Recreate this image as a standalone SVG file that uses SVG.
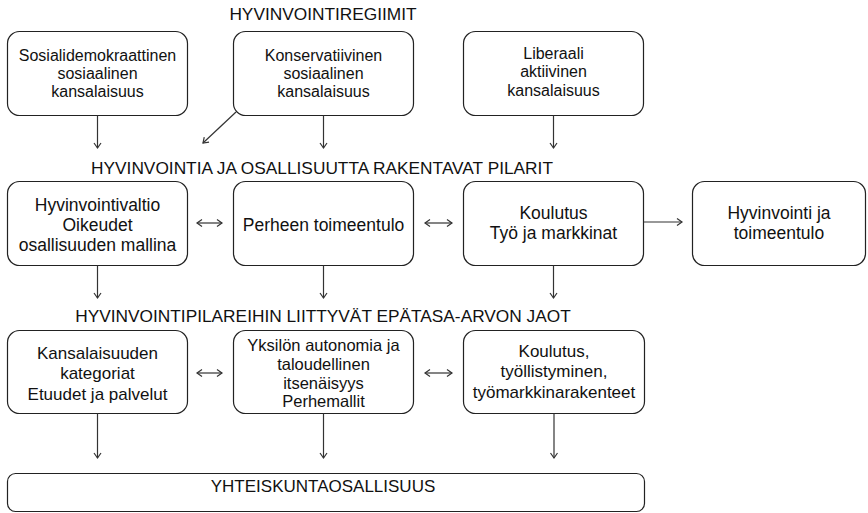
<svg xmlns="http://www.w3.org/2000/svg" width="868" height="513" viewBox="0 0 868 513">
<defs>
<marker id="ah" viewBox="0 0 10 10" refX="8" refY="5" markerWidth="10" markerHeight="10" markerUnits="userSpaceOnUse" orient="auto-start-reverse">
<path d="M3,1.5 L8,5 L3,8.5" fill="none" stroke="#333" stroke-width="1.2"/>
</marker>
</defs>
<style>
.box{fill:#fff;stroke:#222;stroke-width:1.2}
text{font-family:"Liberation Sans",Arial,sans-serif;fill:#111;text-anchor:middle}
.h{font-size:17.3px}
.t1{font-size:16px}
.t2{font-size:17.5px}
.t3{font-size:17px}
.t4{font-size:16.5px}
.c{fill:none;stroke:#333;stroke-width:1.2}
</style>
<rect width="868" height="513" fill="#fff"/>
<g id="headings">
<text class="h" x="323" y="20">HYVINVOINTIREGIIMIT</text>
<text class="h" x="322" y="174">HYVINVOINTIA JA OSALLISUUTTA RAKENTAVAT PILARIT</text>
<text class="h" x="323" y="322">HYVINVOINTIPILAREIHIN LIITTYVÄT EPÄTASA-ARVON JAOT</text>
</g>
<g id="node-sosialidemokraattinen">
<rect class="box" x="7.5" y="31.5" width="180" height="84" rx="12"/>
<text class="t1" x="97.5" y="61">Sosialidemokraattinen</text>
<text class="t1" x="97.5" y="79">sosiaalinen</text>
<text class="t1" x="97.5" y="97">kansalaisuus</text>
</g>
<g id="node-konservatiivinen">
<rect class="box" x="233.5" y="31.5" width="180" height="84" rx="12"/>
<text class="t1" x="323.5" y="61">Konservatiivinen</text>
<text class="t1" x="323.5" y="79">sosiaalinen</text>
<text class="t1" x="323.5" y="97">kansalaisuus</text>
</g>
<g id="node-liberaali">
<rect class="box" x="463.5" y="31.5" width="180" height="84" rx="12"/>
<text class="t1" x="553.5" y="59">Liberaali</text>
<text class="t1" x="553.5" y="77">aktiivinen</text>
<text class="t1" x="553.5" y="96">kansalaisuus</text>
</g>
<g id="node-hyvinvointivaltio">
<rect class="box" x="7.5" y="181.5" width="180" height="84" rx="12"/>
<text class="t2" x="97.5" y="211">Hyvinvointivaltio</text>
<text class="t2" x="97.5" y="231">Oikeudet</text>
<text class="t2" x="97.5" y="251">osallisuuden mallina</text>
</g>
<g id="node-perheen">
<rect class="box" x="233.5" y="181.5" width="180" height="84" rx="12"/>
<text class="t2" x="323.5" y="231">Perheen toimeentulo</text>
</g>
<g id="node-koulutus">
<rect class="box" x="463.5" y="181.5" width="180" height="84" rx="12"/>
<text class="t2" x="553.5" y="219">Koulutus</text>
<text class="t2" x="553.5" y="239">Työ ja markkinat</text>
</g>
<g id="node-hyvinvointi">
<rect class="box" x="692.5" y="181.5" width="173" height="84" rx="12"/>
<text class="t2" x="779" y="219">Hyvinvointi ja</text>
<text class="t2" x="779" y="239">toimeentulo</text>
</g>
<g id="node-kansalaisuuden">
<rect class="box" x="7.5" y="330.5" width="180" height="83" rx="12"/>
<text class="t3" x="97.5" y="359">Kansalaisuuden</text>
<text class="t3" x="97.5" y="379">kategoriat</text>
<text class="t3" x="97.5" y="400">Etuudet ja palvelut</text>
</g>
<g id="node-yksilon">
<rect class="box" x="233.5" y="330.5" width="180" height="83" rx="12"/>
<text class="t4" x="323.5" y="351">Yksilön autonomia ja</text>
<text class="t4" x="323.5" y="370">taloudellinen</text>
<text class="t4" x="323.5" y="389">itsenäisyys</text>
<text class="t4" x="323.5" y="407">Perhemallit</text>
</g>
<g id="node-tyollistyminen">
<rect class="box" x="463.5" y="330.5" width="181" height="83" rx="12"/>
<text class="t3" x="554" y="357">Koulutus,</text>
<text class="t3" x="554" y="377">työllistyminen,</text>
<text class="t3" x="554" y="398">työmarkkinarakenteet</text>
</g>
<g id="node-yhteiskuntaosallisuus">
<rect class="box" x="7.5" y="473.5" width="637" height="38" rx="8"/>
<text class="t3" x="323" y="492">YHTEISKUNTAOSALLISUUS</text>
</g>
<g id="connectors">
<line class="c" x1="97.5" y1="115.5" x2="97.5" y2="148" marker-end="url(#ah)"/>
<line class="c" x1="323.5" y1="115.5" x2="323.5" y2="148" marker-end="url(#ah)"/>
<line class="c" x1="553.5" y1="115.5" x2="553.5" y2="148" marker-end="url(#ah)"/>
<line class="c" x1="236" y1="112" x2="203" y2="143" marker-end="url(#ah)"/>
<line class="c" x1="97.5" y1="265.5" x2="97.5" y2="298" marker-end="url(#ah)"/>
<line class="c" x1="323.5" y1="265.5" x2="323.5" y2="298" marker-end="url(#ah)"/>
<line class="c" x1="553.5" y1="265.5" x2="553.5" y2="298" marker-end="url(#ah)"/>
<line class="c" x1="197" y1="223" x2="222" y2="223" marker-start="url(#ah)" marker-end="url(#ah)"/>
<line class="c" x1="425" y1="223" x2="452" y2="223" marker-start="url(#ah)" marker-end="url(#ah)"/>
<line class="c" x1="643.5" y1="222" x2="682" y2="222" marker-end="url(#ah)"/>
<line class="c" x1="197" y1="373" x2="222" y2="373" marker-start="url(#ah)" marker-end="url(#ah)"/>
<line class="c" x1="425" y1="373" x2="452" y2="373" marker-start="url(#ah)" marker-end="url(#ah)"/>
<line class="c" x1="97.5" y1="413.5" x2="97.5" y2="458" marker-end="url(#ah)"/>
<line class="c" x1="323.5" y1="413.5" x2="323.5" y2="458" marker-end="url(#ah)"/>
<line class="c" x1="554" y1="413.5" x2="554" y2="458" marker-end="url(#ah)"/>
</g>
</svg>
